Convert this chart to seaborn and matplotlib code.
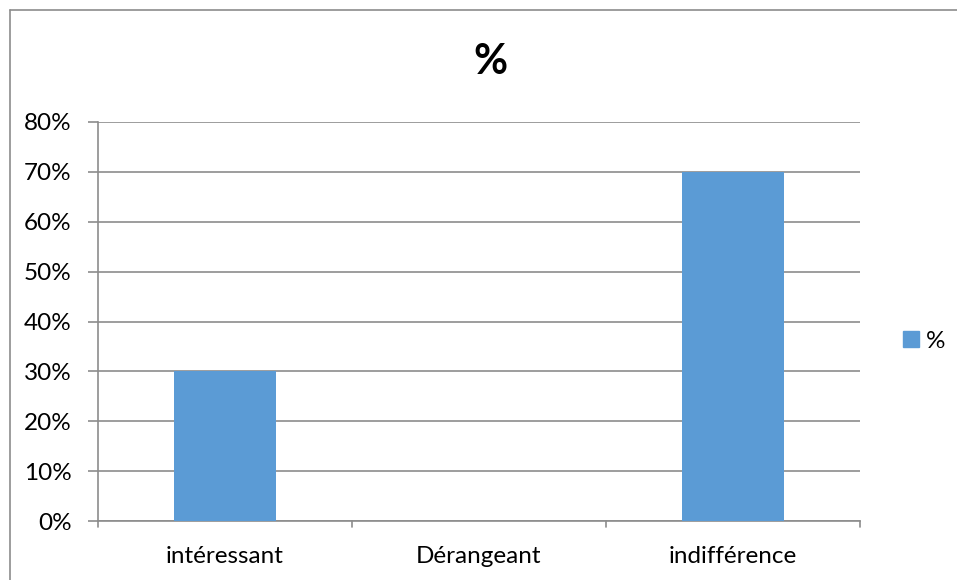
import matplotlib
matplotlib.use("Agg")
import matplotlib.pyplot as plt
import seaborn as sns
import pandas as pd
from matplotlib.patches import Patch
from matplotlib.lines import Line2D
from matplotlib.ticker import FuncFormatter, MultipleLocator

categories = ["intéressant", "Dérangeant", "indifférence"]
values = [0.30, 0.00, 0.70]
series_name = "%"
title = "%"

sns.set_theme(style="white")
plt.rcParams["font.family"] = ["Lato", "DejaVu Sans"]
plt.rcParams["text.color"] = "black"
plt.rcParams["xtick.color"] = "black"
plt.rcParams["ytick.color"] = "black"

BAR = "#5B9BD5"
GRID = "#8C8C8C"

df = pd.DataFrame({"cat": categories, "val": values})

W, H = 957, 580
fig = plt.figure(figsize=(W / 100, H / 100), dpi=100)
ax = fig.add_axes([98 / W, 1 - 521 / H, (860 - 98) / W, (521 - 122) / H])

sns.barplot(data=df, x="cat", y="val", color=BAR, width=0.4, saturation=1,
            edgecolor=BAR, linewidth=0, ax=ax, zorder=3)

ax.set_ylim(0, 0.8)
ax.set_xlim(-0.5, 2.5)
ax.yaxis.set_major_locator(MultipleLocator(0.1))
ax.yaxis.set_major_formatter(FuncFormatter(lambda v, _: f"{v * 100:.0f}%"))
ax.set_xlabel("")
ax.set_ylabel("")

for s in ["top", "right"]:
    ax.spines[s].set_visible(False)
for s in ["left", "bottom"]:
    ax.spines[s].set_color(GRID)
    ax.spines[s].set_linewidth(1.2)

ax.grid(axis="y", color=GRID, linewidth=1.2, zorder=0)
ax.set_axisbelow(True)

ax.tick_params(axis="y", length=7, width=1.2, color=GRID, labelcolor="black",
               labelsize=17.5, pad=12, left=True)
ax.tick_params(axis="x", length=0, labelcolor="black", labelsize=17.5, pad=18)

# category boundary ticks below the x axis
for xb in [-0.5, 0.5, 1.5, 2.5]:
    ax.add_line(Line2D([xb, xb], [0, -0.013], color=GRID, linewidth=1.2, clip_on=False,
                       transform=ax.transData))

fig.text(490 / W, 1 - 62 / H, title, fontsize=30, fontweight="bold", color="black",
         ha="center", va="center")

fig.legend(handles=[Patch(facecolor=BAR, edgecolor=BAR, label=series_name)],
           loc="center left", bbox_to_anchor=(903 / W, 1 - 341 / H), frameon=False,
           fontsize=17.5, handlelength=0.65, handleheight=0.65, handletextpad=0.3,
           borderpad=0, borderaxespad=0)

# outer chart border (left and top edges)
fig.add_artist(Line2D([10 / W, 10 / W], [0, 1 - 10 / H], color=GRID, linewidth=1.2,
                      transform=fig.transFigure))
fig.add_artist(Line2D([10 / W, 1], [1 - 10 / H, 1 - 10 / H], color=GRID, linewidth=1.2,
                      transform=fig.transFigure))

fig.savefig("out.png", dpi=100, facecolor="white")
